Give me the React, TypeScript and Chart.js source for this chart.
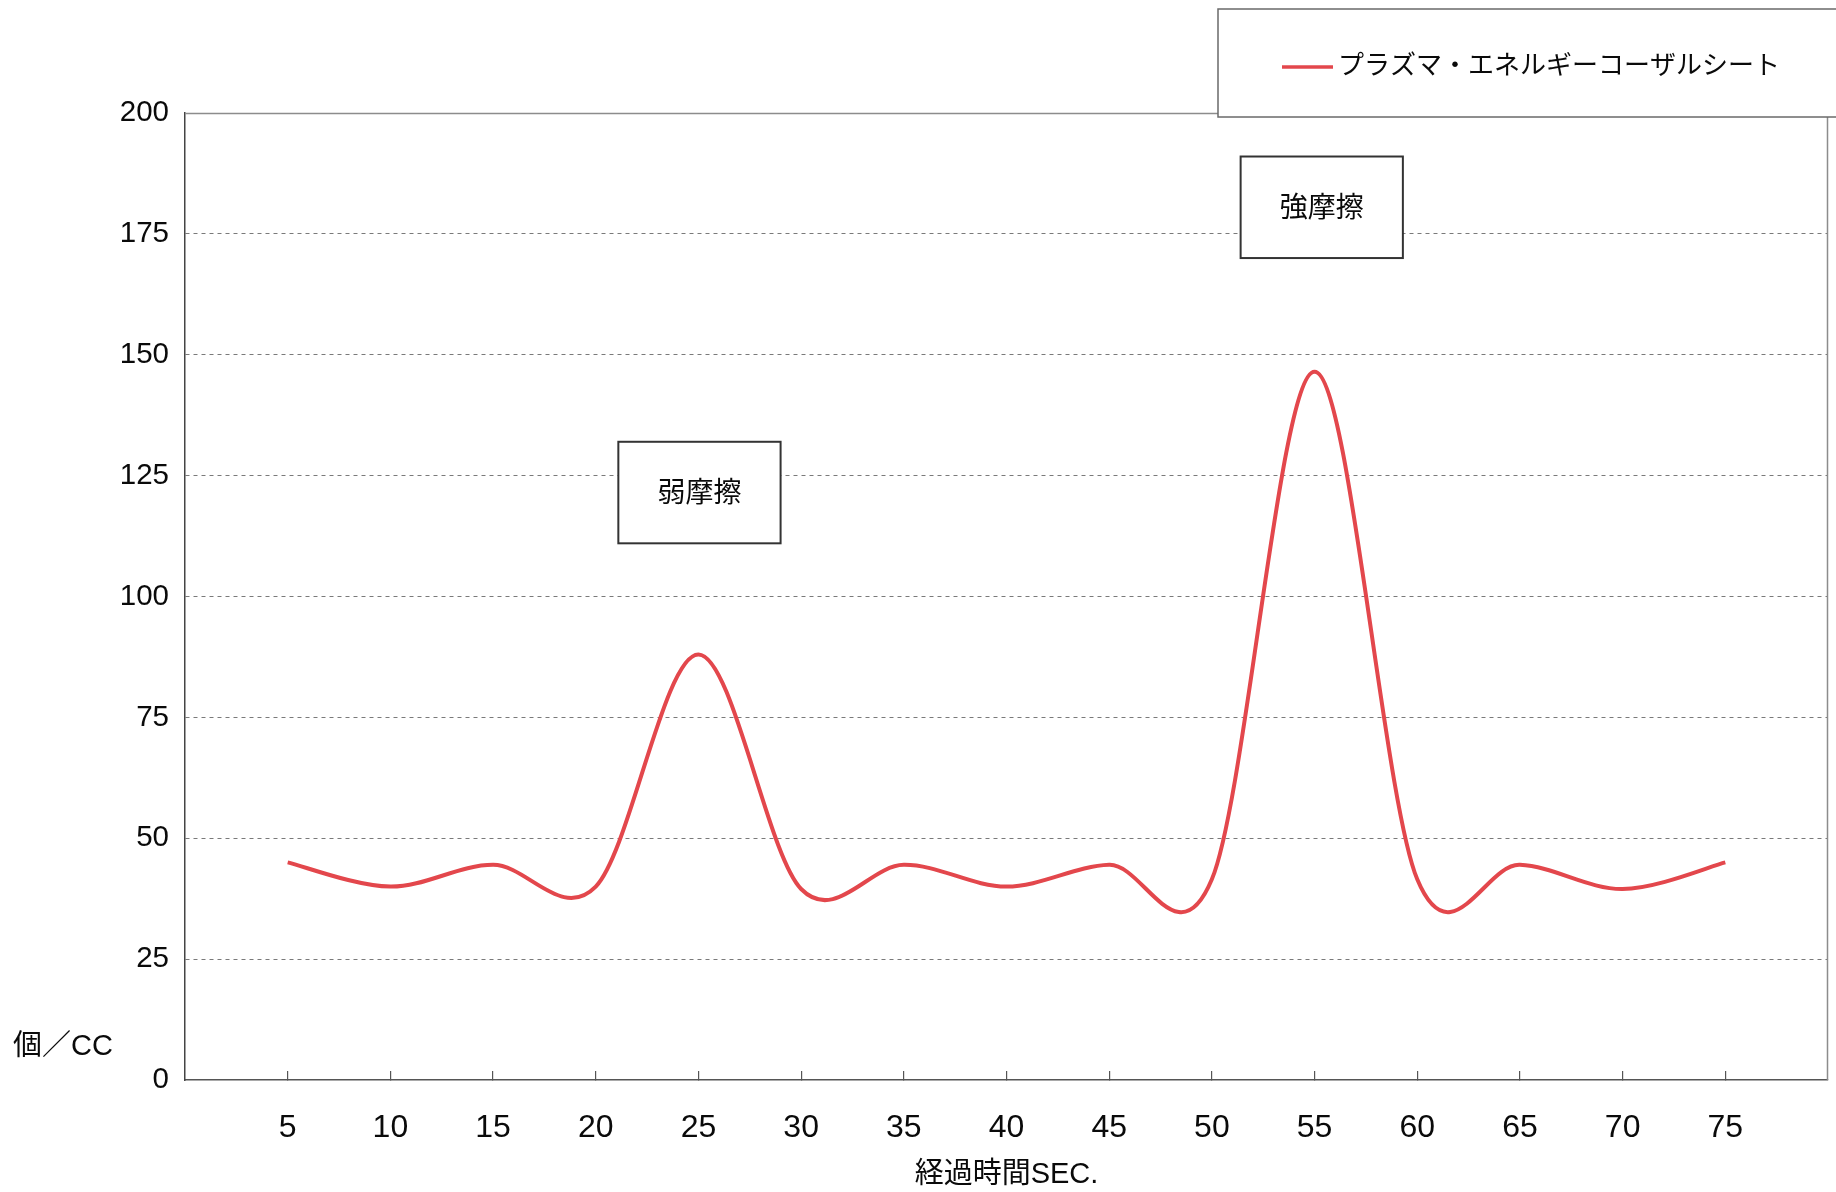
import React, { useEffect, useRef } from "react";
import { Chart, registerables } from "chart.js";

Chart.register(...registerables);

// Elapsed time (seconds) and particle counts per cc
const seconds = [5, 10, 15, 20, 25, 30, 35, 40, 45, 50, 55, 60, 65, 70, 75];
const particles = [45, 40, 44.5, 40, 88, 39.5, 44.5, 40, 44.5, 41.5, 146.5, 41.5, 44.5, 39.5, 45];
const seriesLabel = "プラズマ・エネルギーコーザルシート";
const xTitle = "経過時間SEC.";
const yTitle = "個／CC";

// Callout boxes: label, x-range and y-range in data units
const noteText = ["弱摩擦", "強摩擦"];
const noteXRange = [
  [21.1, 29.0],
  [51.4, 59.3],
];
const noteYRange = [
  [111, 132],
  [170, 191],
];

const W = 1836;
const H = 1192;
const FONT = "'Liberation Sans', Arial, 'Noto Sans CJK JP', sans-serif";
const LINE_RED = "#e3474c";
const INK = "#0a0a0a";

// Uniform Catmull-Rom style handles (one sixth of the neighbour span)
const smoothHandles = {
  id: "smoothHandles",
  beforeDatasetDraw(chart: any, args: any) {
    const meta = args.meta;
    const pts = meta.data;
    const n = pts.length;
    for (let i = 0; i < n; i++) {
      const p = pts[i];
      const prev = pts[Math.max(0, i - 1)];
      const next = pts[Math.min(n - 1, i + 1)];
      const dx = (next.x - prev.x) / 6;
      const dy = (next.y - prev.y) / 6;
      p.cp1x = p.x - dx;
      p.cp1y = p.y - dy;
      p.cp2x = p.x + dx;
      p.cp2y = p.y + dy;
    }
    if (meta.dataset) {
      meta.dataset._pointsUpdated = true;
      meta.dataset._path = undefined;
    }
  },
};

const decorations = {
  id: "decorations",
  afterDraw(chart: any) {
    const { ctx, chartArea: a, scales } = chart;
    const x = scales.x;
    const y = scales.y;
    ctx.save();

    // top and right frame of the plot area
    ctx.strokeStyle = "#8c8c8c";
    ctx.lineWidth = 1.5;
    ctx.beginPath();
    ctx.moveTo(a.left, a.top + 0.5);
    ctx.lineTo(a.right, a.top + 0.5);
    ctx.moveTo(a.right - 0.5, a.top);
    ctx.lineTo(a.right - 0.5, a.bottom);
    ctx.stroke();

    // callout boxes
    noteText.forEach((t, i) => {
      const l = x.getPixelForValue(noteXRange[i][0]);
      const r = x.getPixelForValue(noteXRange[i][1]);
      const top = y.getPixelForValue(noteYRange[i][1]);
      const bot = y.getPixelForValue(noteYRange[i][0]);
      ctx.fillStyle = "#ffffff";
      ctx.fillRect(l, top, r - l, bot - top);
      ctx.strokeStyle = "#333333";
      ctx.lineWidth = 2;
      ctx.strokeRect(l, top, r - l, bot - top);
      ctx.fillStyle = INK;
      ctx.font = `28px ${FONT}`;
      ctx.textAlign = "center";
      ctx.textBaseline = "middle";
      ctx.fillText(t, (l + r) / 2, (top + bot) / 2 + 2);
    });

    // unit label at the lower left
    ctx.fillStyle = INK;
    ctx.font = `29px ${FONT}`;
    ctx.textAlign = "left";
    ctx.textBaseline = "middle";
    ctx.fillText(yTitle, 13, a.bottom - 33);

    // legend box in the upper right corner
    const ds = chart.data.datasets[0];
    const bx = 1218;
    const by = 9;
    ctx.fillStyle = "#ffffff";
    ctx.fillRect(bx, by, W - bx + 4, a.top - by + 4);
    ctx.strokeStyle = "#6a6a6a";
    ctx.lineWidth = 1.5;
    ctx.strokeRect(bx, by, W - bx + 4, a.top - by + 4);
    const ly = 67;
    ctx.strokeStyle = ds.borderColor;
    ctx.lineWidth = 3.5;
    ctx.beginPath();
    ctx.moveTo(1282, ly);
    ctx.lineTo(1333, ly);
    ctx.stroke();
    ctx.fillStyle = INK;
    ctx.font = `26px ${FONT}`;
    ctx.textAlign = "left";
    ctx.textBaseline = "middle";
    ctx.fillText(ds.label, 1338, ly);

    ctx.restore();
  },
};

export default function App() {
  const canvasRef = useRef<HTMLCanvasElement | null>(null);

  useEffect(() => {
    const canvas = canvasRef.current;
    if (!canvas) return;
    const chart = new Chart(canvas, {
      type: "line",
      data: {
        datasets: [
          {
            label: seriesLabel,
            data: seconds.map((s, i) => ({ x: s, y: particles[i] })),
            borderColor: LINE_RED,
            backgroundColor: LINE_RED,
            borderWidth: 4,
            pointRadius: 0,
            tension: 0.4,
            fill: false,
          },
        ],
      },
      options: {
        responsive: false,
        animation: false,
        devicePixelRatio: 1,
        layout: { padding: { left: 0, top: 113, right: 8, bottom: 0 } },
        plugins: {
          legend: { display: false },
          title: { display: false },
          tooltip: { enabled: false },
        },
        scales: {
          x: {
            type: "linear",
            min: 0,
            max: 80,
            afterBuildTicks: (scale: any) => {
              scale.ticks = scale.ticks.filter((t: any) => t.value >= 5 && t.value <= 75);
            },
            afterFit: (scale: any) => {
              scale.height = H - 1080;
            },
            ticks: {
              stepSize: 5,
              color: INK,
              font: { family: FONT, size: 32 },
              padding: 38,
              maxRotation: 0,
              autoSkip: false,
            },
            grid: {
              drawOnChartArea: false,
              drawTicks: true,
              tickLength: -9,
              color: "#555555",
              lineWidth: 1.2,
            },
            border: { display: true, color: "#555555", width: 1.5 },
            title: {
              display: true,
              text: xTitle,
              color: INK,
              font: { family: FONT, size: 29 },
              padding: { top: 0, bottom: 0 },
            },
          },
          y: {
            type: "linear",
            min: 0,
            max: 200,
            afterFit: (scale: any) => {
              scale.width = 185;
            },
            ticks: {
              stepSize: 25,
              color: INK,
              font: { family: FONT, size: 29.5 },
              padding: 16,
            },
            grid: {
              drawTicks: false,
              color: (c: any) =>
                c.tick && (c.tick.value === 0 || c.tick.value === 200) ? "rgba(0,0,0,0)" : "#7a7a7a",
              lineWidth: 1,
            },
            border: { display: true, color: "#444444", width: 1.5, dash: [4, 4] },
          },
        },
      },
      plugins: [smoothHandles, decorations],
    });
    return () => chart.destroy();
  }, []);

  return (
    <div style={{ position: "absolute", left: 0, top: 0, width: W, height: H, background: "#ffffff" }}>
      <canvas ref={canvasRef} width={W} height={H} style={{ display: "block", width: W, height: H }} />
    </div>
  );
}
